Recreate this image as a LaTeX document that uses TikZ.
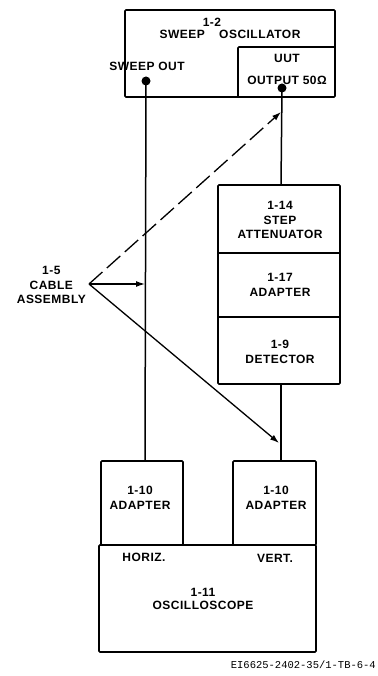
\documentclass[tikz,border=0pt]{standalone}
\usepackage{fontspec}
\setmainfont{Liberation Sans}[LetterSpace=4]
\newfontfamily\capfont{Liberation Mono}
\usetikzlibrary{arrows.meta}
\begin{document}
\begin{tikzpicture}[x=1pt,y=-1pt,
  box/.style={draw,line width=1.6pt,rounded corners=1pt},
  lbl/.style={font=\fontsize{12}{13.5}\selectfont\bfseries,align=center,inner sep=0pt},
  wire/.style={line width=1.5pt},
  arr/.style={line width=1.3pt,-{Latex[length=9pt,width=6pt]}},
  dot/.style={circle,fill,inner sep=0pt,minimum size=9pt}]
\useasboundingbox (0,0) rectangle (377,676);
% sweep oscillator
\draw[box] (125,10) rectangle (335,97);
\draw[box] (238,97) -- (238,47) -- (335,47);
\node[lbl] (osc1) at (212,22) {1-2};
\node[lbl] (osc2) at (230,34) {SWEEP\hspace{1.2em}OSCILLATOR};
\node[lbl] (swo) at (147,66) {SWEEP OUT};
\node[lbl] (uut) at (287,58) {UUT};
\node[lbl] (uuto) at (287,80) {OUTPUT 50Ω};
\node[dot] (d1) at (146,81) {};
\node[dot] (d2) at (282,88) {};
% attenuator column
\draw[box] (218,185) rectangle (340,384);
\draw[wire] (218,253) -- (340,253);
\draw[wire] (218,317) -- (340,317);
\coordinate (attT) at (281,185);
\coordinate (detB) at (281,384);
\node[lbl] at (280,220) {1-14\\[1pt]STEP\\[1pt]ATTENUATOR};
\node[lbl] at (280,285) {1-17\\[2pt]ADAPTER};
\node[lbl] at (280,352) {1-9\\[2pt]DETECTOR};
% adapters and oscilloscope
\draw[box] (101,461) rectangle (183,545);
\draw[box] (233,461) rectangle (316,545);
\draw[box] (99,545) rectangle (316,652);
\coordinate (la) at (145,461);
\coordinate (ra) at (281,461);
\node[lbl] at (140,498) {1-10\\[2pt]ADAPTER};
\node[lbl] at (276,498) {1-10\\[2pt]ADAPTER};
\node[lbl] at (144,557) {HORIZ.};
\node[lbl] at (275,558) {VERT.};
\node[lbl] at (203,599) {1-11\\[0pt]OSCILLOSCOPE};
% wires
\draw[wire] (d1.center) -- (la);
\draw[wire] (d2.center) -- (attT);
\draw[wire] (detB) -- (ra);
% cable assembly
\node[lbl,anchor=east] (cab) at (86,285) {1-5\\[1pt]CABLE\\[1pt]ASSEMBLY};
\coordinate (apex) at (89,284);
\coordinate (t1) at (281,112);
\coordinate (t2) at (145,284);
\coordinate (t3) at (279,443);
\draw[arr,dash pattern=on 18pt off 6pt] (apex) -- (t1);
\draw[arr] (apex) -- (t2);
\draw[arr] (apex) -- (t3);
\node[font=\capfont\fontsize{10.5}{12}\selectfont,anchor=east,inner sep=0pt] (cap) at (376,665) {EI6625-2402-35/1-TB-6-4};
\end{tikzpicture}
\end{document}
